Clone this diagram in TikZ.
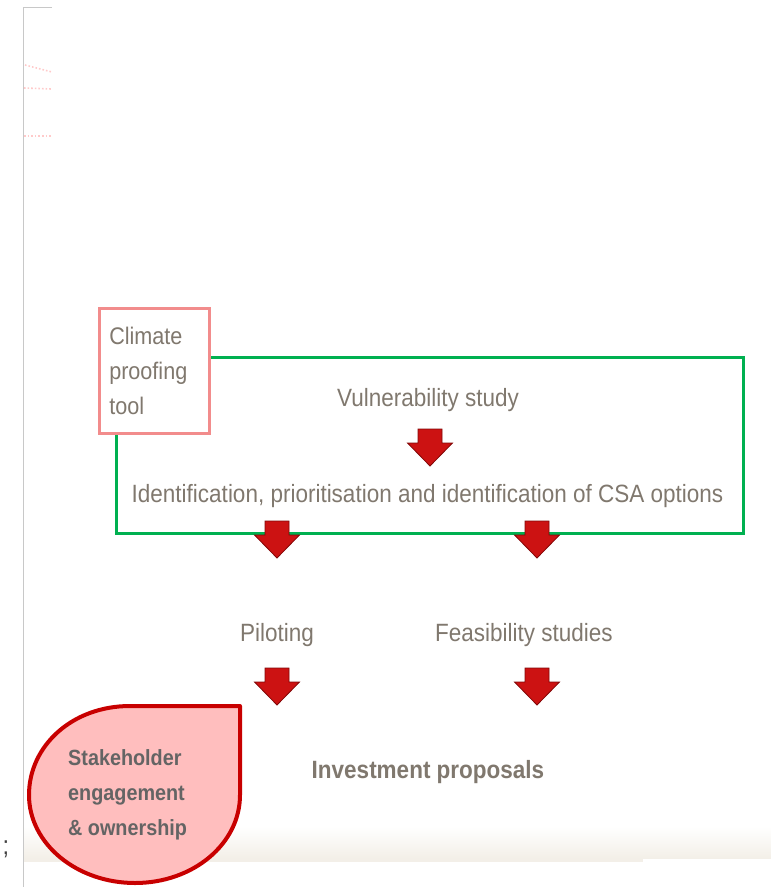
\documentclass[tikz,border=0pt]{standalone}
\usepackage{fontspec}
\setmainfont{Liberation Sans}[FakeStretch=0.9]
\usetikzlibrary{shadows}
\definecolor{txtgrey}{RGB}{128,120,110}
\definecolor{darktxt}{RGB}{100,100,100}
\definecolor{framegreen}{RGB}{0,176,80}
\definecolor{boxpink}{RGB}{242,140,140}
\definecolor{arrowred}{RGB}{204,18,18}
\definecolor{arrowdark}{RGB}{130,8,8}
\definecolor{dropfill}{RGB}{255,190,190}
\definecolor{dropline}{RGB}{200,0,0}
\definecolor{edgegrey}{RGB}{200,200,200}
\definecolor{bandbeige}{RGB}{243,239,232}
\tikzset{
  lbl/.style={text=txtgrey, inner sep=0pt, font=\fontsize{25}{30}\selectfont},
  redarrow/.pic={\path[fill=arrowred, draw=arrowdark, line width=0.8pt, line join=miter]
     (-12,0) -- (12,0) -- (12,14) -- (22.5,14) -- (0,37) -- (-22.5,14) -- (-12,14) -- cycle;},
  pinkmark/.style={draw=red!60, dotted, line width=1.6pt, opacity=0.35}
}
\begin{document}
\begin{tikzpicture}[x=1pt, y=-1pt]
\useasboundingbox (0,0) rectangle (771,887);
% background band at the bottom
\fill[top color=white, bottom color=bandbeige] (23,826) rectangle (771,858);
\fill[bandbeige] (23,858) rectangle (643,862);
% left page edge
\draw[edgegrey, line width=1pt] (52,7) -- (23,7) -- (23,887);
\draw[pinkmark] (25,65) -- (52,72);
\draw[pinkmark] (24,88) -- (52,89);
\draw[pinkmark] (24,136) -- (52,136);
\node[text=black!75, inner sep=0pt, anchor=base, font=\fontsize{26}{30}\selectfont] (semi) at (6,854) {;};
\coordinate (ocenter) at (6,889);
\draw[black!70, line width=1.8pt] (ocenter) ++(8,0) arc[start angle=0, end angle=180, radius=8];
% green frame
\node[draw=framegreen, line width=3pt, minimum width=627pt, minimum height=176pt,
      anchor=north west, inner sep=0pt, outer sep=0pt] (frame) at (116,357) {};
% climate proofing tool box
\node[draw=boxpink, line width=2.5pt, fill=white, anchor=north west,
      minimum width=110pt, minimum height=125pt, text width=90pt, inner xsep=10pt,
      align=left, text=txtgrey, font=\fontsize{24}{35}\selectfont,
      drop shadow={shadow xshift=2pt, shadow yshift=-2pt, opacity=0.25}] (climate) at (98,307)
      {Climate\\proofing\\tool};
% texts
\node[lbl, anchor=base] (vuln) at (428,406) {Vulnerability study};
\node[lbl, anchor=base] (ident) at (427.5,502) {Identification, prioritisation and identification of CSA options};
\node[lbl, anchor=base] (pilot) at (277,641) {Piloting};
\node[lbl, anchor=base] (feas) at (524,641) {Feasibility studies};
\node[lbl, anchor=base, font=\bfseries\fontsize{25}{30}\selectfont] (invest) at (428,778) {Investment proposals};
% arrows
\pic (a1) at (430,429) {redarrow};
\pic (a2) at (277,521) {redarrow};
\pic (a3) at (537,521) {redarrow};
\pic (a4) at (277,668) {redarrow};
\pic (a5) at (537,668) {redarrow};
% stakeholder drop
\path[fill=dropfill, draw=dropline, line width=4pt, line join=round]
  (240,706) -- (240,795) .. controls (240,844) and (193,883) .. (135,883)
  .. controls (77,883) and (29,844) .. (29,795)
  .. controls (29,746) and (72,706) .. (130,706) -- cycle;
\node[anchor=north west, inner sep=0pt, align=left, text=darktxt,
      font=\bfseries\fontsize{22}{35}\selectfont] (stake) at (68,749)
      {Stakeholder\\engagement\\\& ownership};
\end{tikzpicture}
\end{document}
